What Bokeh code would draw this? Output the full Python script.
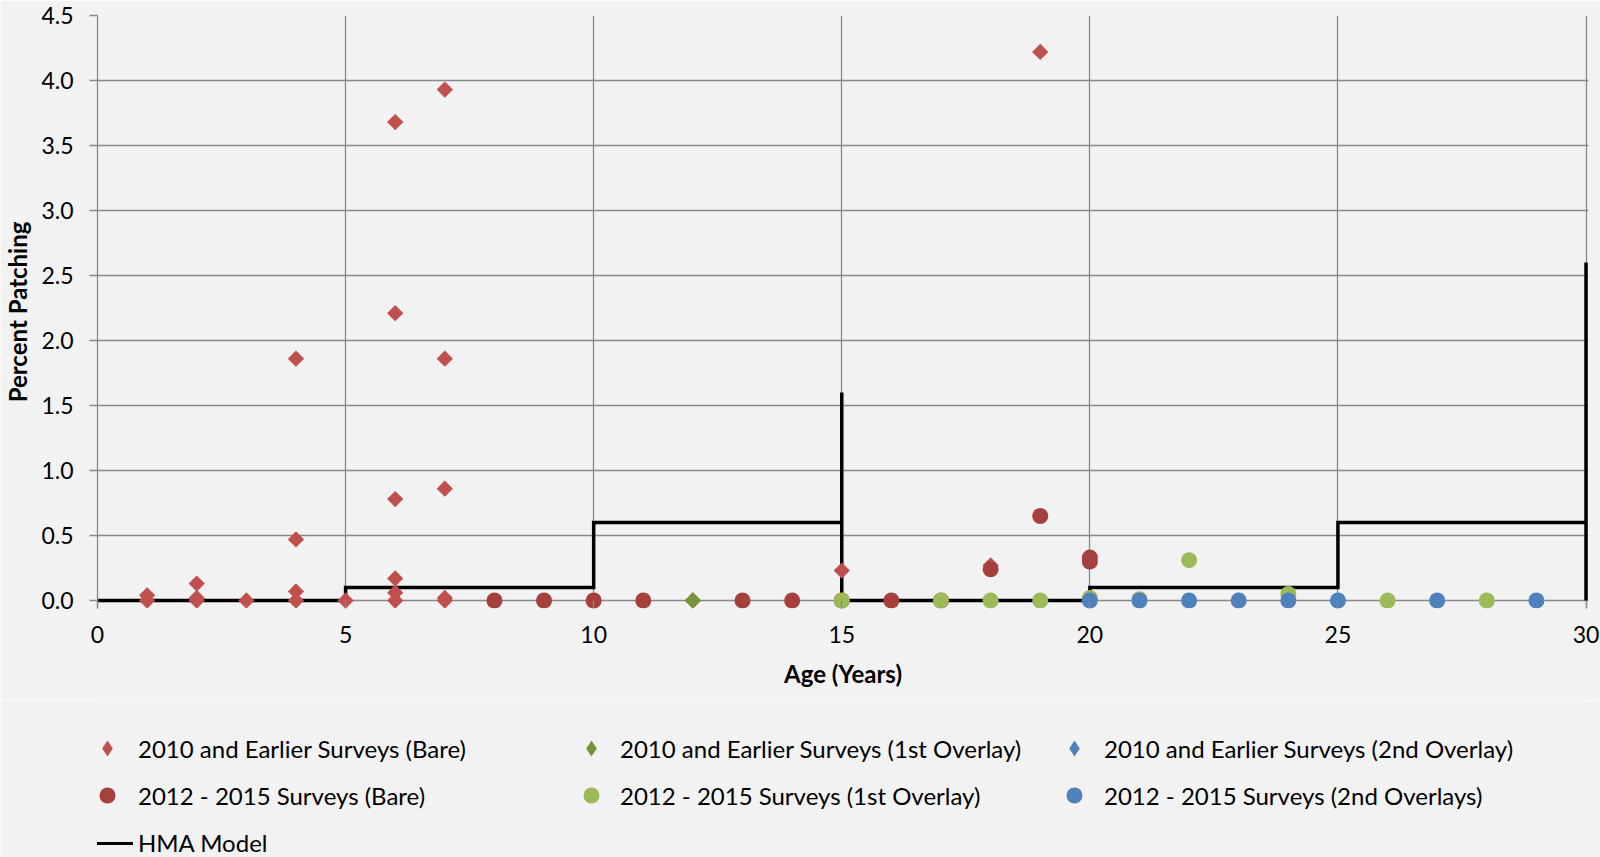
import numpy as np
from bokeh.plotting import figure
from bokeh.layouts import column
from bokeh.models import Range1d, Legend, LegendItem, NumeralTickFormatter, FixedTicker
from bokeh.embed import file_html
from bokeh.resources import INLINE

# ---- data ----
bare10_x = [1, 1, 2, 2, 2, 3, 4, 4, 4, 4, 5, 6, 6, 6, 6, 6, 6, 7, 7, 7, 7, 7, 12, 15, 18, 19]
bare10_y = [0.04, 0.0, 0.13, 0.02, 0.0, 0.0, 1.86, 0.47, 0.07, 0.0, 0.0, 3.68, 2.21, 0.78, 0.17, 0.06, 0.0,
            3.93, 1.86, 0.86, 0.02, 0.0, 0.0, 0.23, 0.27, 4.22]
ov1_10_x = [12]
ov1_10_y = [0.0]
ov2_10_x = [23]
ov2_10_y = [0.0]
bare15_x = [8, 9, 10, 11, 13, 14, 15, 16, 17, 18, 19, 20, 20]
bare15_y = [0, 0, 0, 0, 0, 0, 0, 0, 0, 0.24, 0.65, 0.33, 0.30]
ov1_15_x = [15, 17, 18, 19, 20, 21, 22, 24, 26, 28]
ov1_15_y = [0, 0, 0, 0, 0.02, 0.01, 0.31, 0.05, 0, 0]
ov2_15_x = [20, 21, 22, 23, 24, 25, 27, 29]
ov2_15_y = [0, 0, 0, 0, 0, 0, 0, 0]
hma_x = [0, 5, 5, 10, 10, 15, 15, 15, 20, 20, 25, 25, 30, 30, 30]
hma_y = [0, 0, 0.1, 0.1, 0.6, 0.6, 1.6, 0, 0, 0.1, 0.1, 0.6, 0.6, 2.6, 0]

x_ticks = [0, 5, 10, 15, 20, 25, 30]
y_ticks = [0, 0.5, 1.0, 1.5, 2.0, 2.5, 3.0, 3.5, 4.0, 4.5]

labels = ["2010 and Earlier Surveys (Bare)", "2010 and Earlier Surveys (1st Overlay)",
          "2010 and Earlier Surveys (2nd Overlay)", "2012 - 2015 Surveys (Bare)",
          "2012 - 2015 Surveys (1st Overlay)", "2012 - 2015 Surveys (2nd Overlays)", "HMA Model"]
colors = ["#C0504D", "#77933C", "#4F81BD", "#A5403D", "#9BBB59", "#4F81BD"]
series = [(bare10_x, bare10_y), (ov1_10_x, ov1_10_y), (ov2_10_x, ov2_10_y),
          (bare15_x, bare15_y), (ov1_15_x, ov1_15_y), (ov2_15_x, ov2_15_y)]
shapes = ["d", "d", "d", "c", "c", "c"]

BG = "#F2F2F2"
GRID = "#898989"
FONT = "Lato"
W = 1600

p = figure(width=W, height=700, output_backend="svg", toolbar_location=None,
           x_range=Range1d(0, 30.05), y_range=Range1d(-0.0615, 4.5),
           min_border_left=95, min_border_right=12, min_border_top=15, min_border_bottom=92)
p.background_fill_color = BG
p.border_fill_color = BG
p.outline_line_color = None

p.xgrid.ticker = FixedTicker(ticks=x_ticks)
p.ygrid.ticker = FixedTicker(ticks=y_ticks)
p.grid.grid_line_color = GRID
p.grid.grid_line_width = 1.3

p.xaxis.ticker = FixedTicker(ticks=x_ticks)
p.yaxis.ticker = FixedTicker(ticks=y_ticks)
p.yaxis.formatter = NumeralTickFormatter(format="0.0")
for ax in (p.xaxis, p.yaxis):
    ax.major_label_text_font = FONT
    ax.major_label_text_font_size = "23px"
    ax.major_label_text_color = "#000000"
    ax.axis_label_text_font = FONT
    ax.axis_label_text_font_style = "bold"
    ax.axis_label_text_font_size = "24px"
    ax.axis_label_text_color = "#000000"
    ax.minor_tick_line_color = None
    ax.major_tick_line_color = GRID
    ax.major_tick_line_width = 1.3
p.xaxis.axis_line_color = None
p.xaxis.major_tick_in = 8
p.xaxis.major_tick_out = 0
p.xaxis.major_label_standoff = 17
p.xaxis.axis_label = "Age (Years)"
p.xaxis.axis_label_standoff = 13
p.yaxis.axis_line_color = GRID
p.yaxis.axis_line_width = 1.3
p.yaxis.major_tick_in = 0
p.yaxis.major_tick_out = 8
p.yaxis.major_label_standoff = 16
p.yaxis.axis_label = "Percent Patching"
p.yaxis.axis_label_standoff = 6

p.line(hma_x, hma_y, line_color="black", line_width=3.5, line_join="miter")

for (sx, sy), c, s in zip(series, colors, shapes):
    if s == "d":
        p.scatter(sx, sy, marker="square", angle=np.pi / 4, size=11.5, fill_color=c, line_width=0)
    else:
        p.scatter(sx, sy, marker="circle", size=16, fill_color=c, line_width=0)

# ---- legend panel: same series, drawn out of view so only the legend shows ----
q = figure(width=W, height=157, output_backend="svg", toolbar_location=None,
           x_range=Range1d(-20, -19), y_range=Range1d(-20, -19),
           x_axis_location=None, y_axis_location=None, min_border=0)
q.background_fill_color = BG
q.border_fill_color = BG
q.outline_line_color = None
q.grid.visible = False

lr = []
for (sx, sy), c, s in zip(series, colors, shapes):
    if s == "d":
        lr.append(q.scatter(sx, sy, marker="diamond", size=16, fill_color=c, line_width=0))
    else:
        lr.append(q.scatter(sx, sy, marker="circle", size=16, fill_color=c, line_width=0))
lr.append(q.line(hma_x, hma_y, line_color="black", line_width=3.2))


def mk_legend(idx, loc, gh=40, sp=7, st=5):
    lg = Legend(items=[LegendItem(label=labels[i], renderers=[lr[i]]) for i in idx],
                location=loc, orientation="vertical",
                glyph_width=52, glyph_height=gh, label_height=gh, spacing=sp,
                label_standoff=st, padding=0, margin=0,
                border_line_color=None, background_fill_alpha=0,
                label_text_font=FONT, label_text_font_size="24px", label_text_color="#000000")
    q.add_layout(lg, "center")


mk_legend([0, 3], (-16, 42))
mk_legend([1, 4], (468, 42), st=3)
mk_legend([2, 5], (951, 42), st=4)
mk_legend([6], (-16, 0), gh=24)

open("out.html", "w").write(file_html(column(p, q, spacing=0), INLINE))
